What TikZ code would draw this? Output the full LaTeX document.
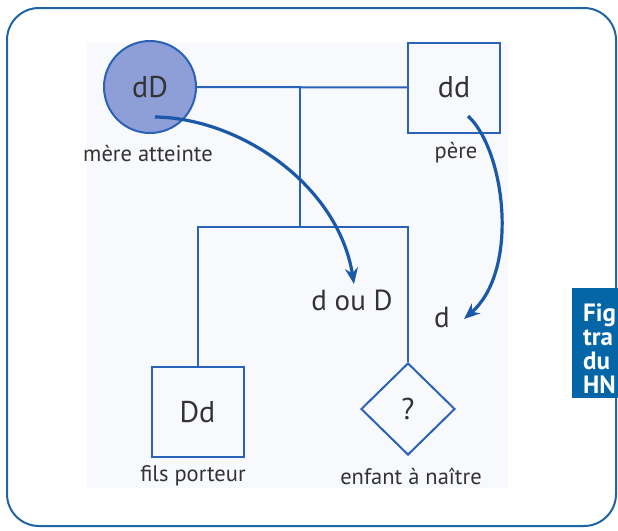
\documentclass[tikz,border=0pt]{standalone}
\usepackage{fontspec}
\setmainfont{PT Sans}
\usepackage{xcolor}
\usetikzlibrary{
  arrows.meta,          % arrow tips
  positioning,          % relative node placement
  shapes.geometric,     % diamond
}
\definecolor{frameblue}{HTML}{1E64A6}
\definecolor{lineblue}{HTML}{2A62B8}
\definecolor{arrowblue}{HTML}{1A58A8}
\definecolor{motherfill}{HTML}{8E9ED6}
\definecolor{boxblue}{HTML}{0465A7}
\definecolor{txtgrey}{HTML}{333333}
\definecolor{bgpale}{HTML}{F8F9FC}

\begin{document}
\begin{tikzpicture}[
  x=1pt, y=-1pt,
  member/.style={draw=lineblue, line width=2pt, text=txtgrey,
    font=\fontsize{30}{32}\selectfont, inner sep=0pt},
  male/.style={member, rectangle, minimum width=92pt, minimum height=90pt},
  female/.style={member, circle, fill=motherfill, minimum size=92pt},
  unborn/.style={member, diamond, minimum width=94pt, minimum height=92pt},
  caption/.style={text=txtgrey, font=\fontsize{22.5}{24}\selectfont},
  allele/.style={text=txtgrey, font=\fontsize{29}{30}\selectfont},
  link/.style={draw=lineblue, line width=2pt},
  transmit/.style={draw=arrowblue, line width=3.2pt,
    -{Stealth[length=16pt, width=13pt]}},
]
  \useasboundingbox (0,0) rectangle (618,530);
  \clip (0,0) rectangle (618,530);
  % Frame and panel
  \draw[frameblue, line width=2pt, rounded corners=32pt] (7,8) rectangle (616,526);
  \fill[bgpale] (87,43) rectangle (508,488);
  % Parents
  \node[female] (mere) at (150,87) {dD};
  \node[male]   (pere) at (454,87.5) {dd};
  \node[caption] at (148,154) {mère atteinte};
  \node[caption] at (456,153) {père};
  % Children
  \node[male]   (fils)   at (197.5,412) {Dd};
  \node[unborn] (enfant) at (408,409) {?};
  \node[caption] at (193,476) {fils porteur};
  \node[caption] at (411,476) {enfant à naître};
  % Lines of descent
  \coordinate (couple) at (300,87);
  \coordinate (sibs)   at (300,227);
  \draw[link] (mere) -- (pere);
  \draw[link] (couple) -- (sibs);
  \draw[link] (fils.north) |- (sibs) -| (enfant.north);
  % Transmitted alleles
  \node[allele] (dOuD) at (352,300) {d ou D};
  \node[allele] (dPere) at (442,318) {d};
  \coordinate (fromMere) at (155,117);
  \coordinate (fromPere) at (468,116);
  \draw[transmit] (fromMere) .. controls (240,118) and (338,185) .. (354,284);
  \draw[transmit] (fromPere) .. controls (505,150) and (520,270) .. (464,319);
  % Side caption box
  \fill[boxblue] (572,288) rectangle (625,398);
  \node[text=white, font=\fontsize{25}{24}\selectfont\bfseries,
    anchor=north west, align=left, inner sep=0pt] (figbox) at (583,304)
    {Fig\\tra\\du\\HN};
\end{tikzpicture}
\end{document}
